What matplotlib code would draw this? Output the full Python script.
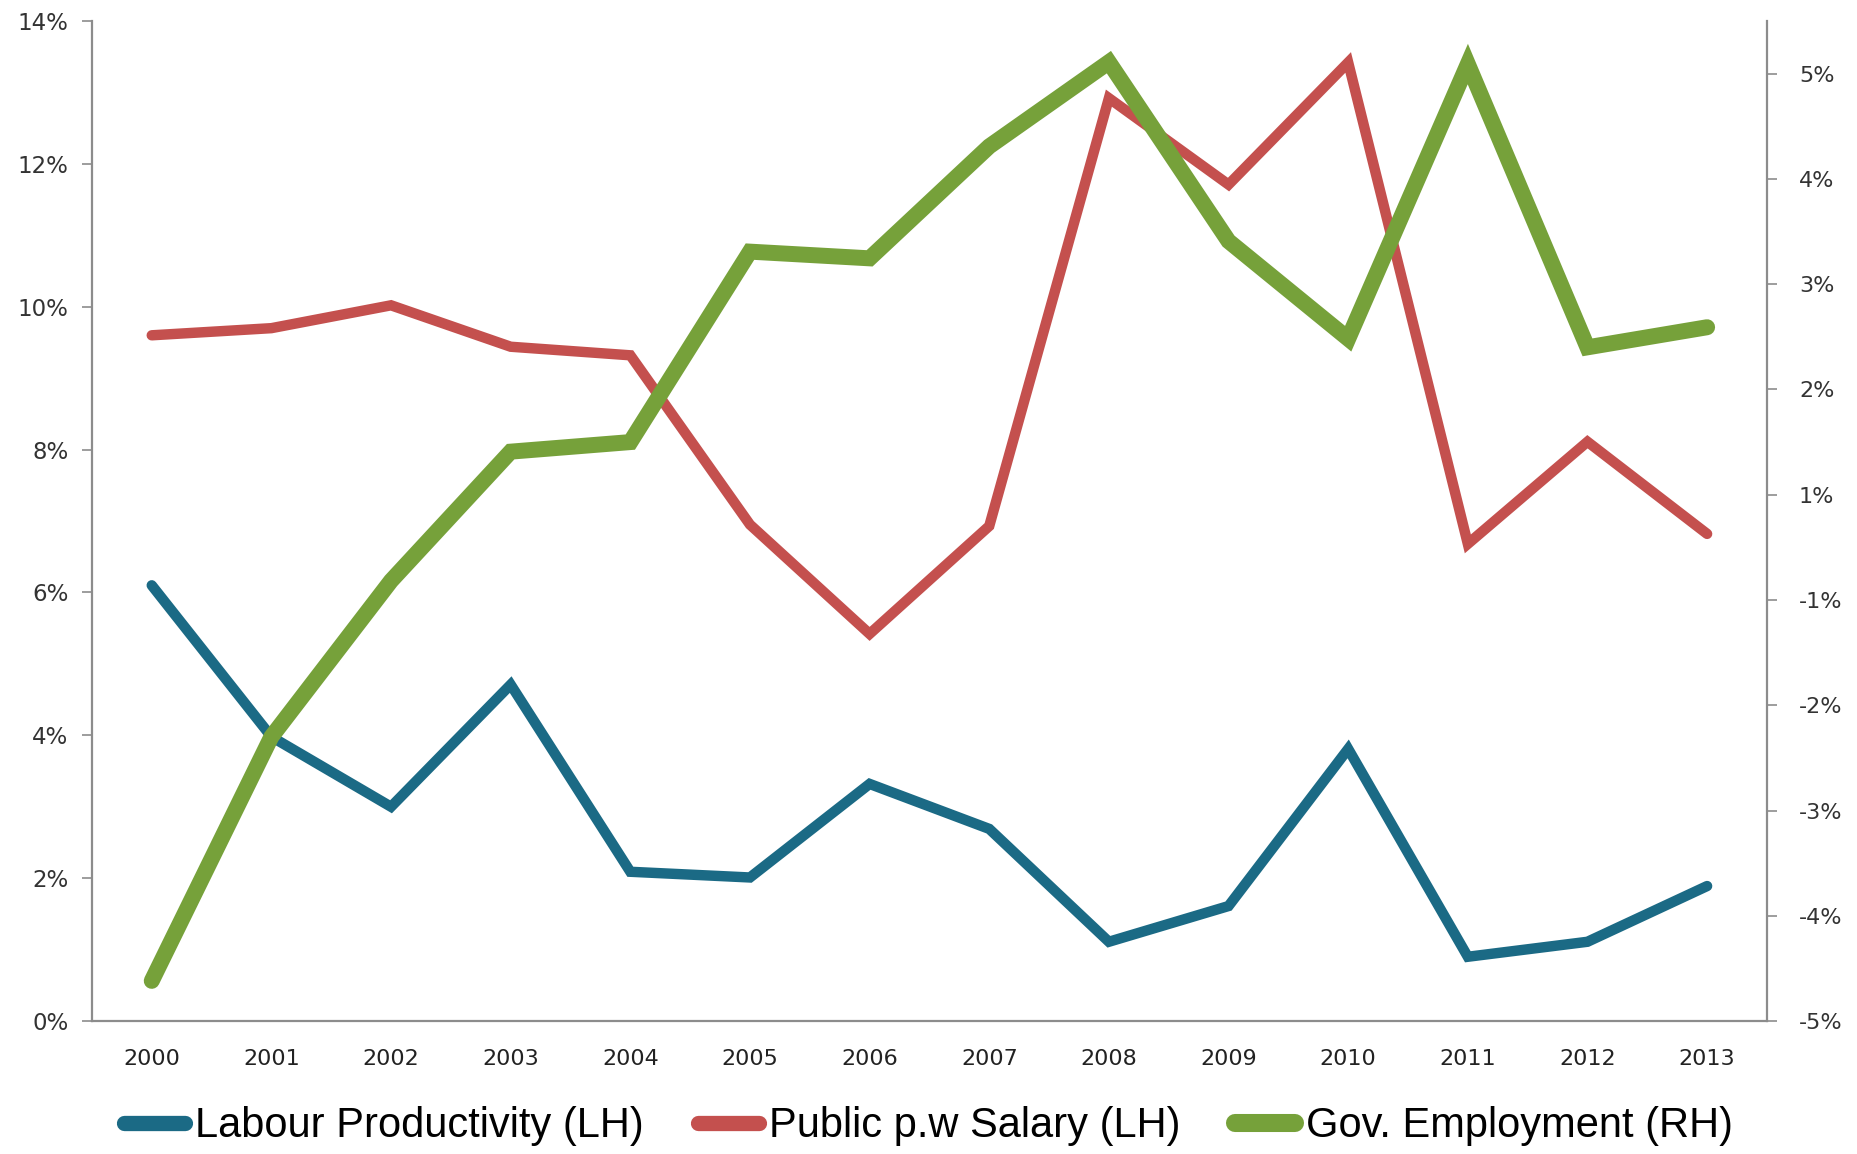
import numpy as np
import matplotlib
matplotlib.use("Agg")
import matplotlib.pyplot as plt
from matplotlib import font_manager
from matplotlib.ticker import FixedLocator, FuncFormatter

years = ["2000", "2001", "2002", "2003", "2004", "2005", "2006",
         "2007", "2008", "2009", "2010", "2011", "2012", "2013"]
labour_productivity = [6.10, 3.98, 3.00, 4.71, 2.09, 2.01, 3.32,
                       2.69, 1.11, 1.61, 3.81, 0.90, 1.11, 1.89]
public_salary = [9.60, 9.70, 10.02, 9.44, 9.32, 6.95, 5.42,
                 6.93, 12.92, 11.71, 13.42, 6.68, 8.11, 6.82]
gov_employment = [-4.58, -2.03, -0.40, 0.95, 1.05, 3.04, 2.97,
                  4.14, 5.02, 3.15, 2.13, 5.00, 2.04, 2.25]
left_ticks = [0, 2, 4, 6, 8, 10, 12, 14]
right_ticks = [-5.0, -3.9, -2.8, -1.7, -0.6, 0.5, 1.6, 2.7, 3.8, 4.9]
series_names = ["Labour Productivity (LH)", "Public p.w Salary (LH)", "Gov. Employment (RH)"]

names = {f.name for f in font_manager.fontManager.ttflist}
narrow = "Liberation Sans Narrow" if "Liberation Sans Narrow" in names else "Liberation Sans"

c_blue = "#1B6A85"
c_red = "#C4504E"
c_green = "#76A13A"
grey = "#8C8C8C"

fig = plt.figure(figsize=(18.57, 11.54), dpi=100)
ax = fig.add_axes([0.0495, 0.1152, 0.9020, 0.8666])
ax2 = ax.twinx()

x = np.arange(len(years))
l1, = ax.plot(x, labour_productivity, color=c_blue, lw=7.5,
              solid_capstyle="round", solid_joinstyle="miter", zorder=3)
l2, = ax.plot(x, public_salary, color=c_red, lw=7.5,
              solid_capstyle="round", solid_joinstyle="miter", zorder=3)
l3, = ax2.plot(x, gov_employment, color=c_green, lw=11.5,
               solid_capstyle="round", solid_joinstyle="miter", zorder=4)

ax.set_xlim(-0.5, len(years) - 0.5)
ax.set_ylim(0, 14)
ax2.set_ylim(-5, 5.45)

ax.set_xticks(x)
ax.set_xticklabels(years, fontfamily="DejaVu Sans", fontsize=16, color="#222222")
ax.tick_params(axis="x", length=0, pad=20)

ax.set_yticks(left_ticks)
ax.yaxis.set_major_formatter(FuncFormatter(lambda v, p: f"{int(round(v))}%"))
ax.tick_params(axis="y", length=7, width=1.2, color=grey, pad=10,
               labelsize=16.5, labelcolor="#333333")

ax2.yaxis.set_major_locator(FixedLocator(right_ticks))
ax2.yaxis.set_major_formatter(FuncFormatter(lambda v, p: f"{int(np.floor(v + 0.5 + 1e-9))}%"))
ax2.tick_params(axis="y", length=7, width=1.2, color=grey, pad=16,
                labelsize=16, labelcolor="#333333")

for a in (ax, ax2):
    a.spines["top"].set_visible(False)
    for s in ("left", "right", "bottom"):
        a.spines[s].set_color(grey)
        a.spines[s].set_linewidth(1.6)
ax.spines["right"].set_visible(False)
ax2.spines["left"].set_visible(False)
ax2.spines["bottom"].set_visible(False)

leg = fig.legend([l1, l2, l3], series_names, loc="center", bbox_to_anchor=(0.5, 0.024),
                 ncol=3, frameon=False, handlelength=1.45, handletextpad=0.25,
                 columnspacing=1.3, prop={"family": narrow, "size": 30})
for h, lw in zip(leg.legend_handles, [11, 11, 13]):
    h.set_linewidth(lw)
    h.set_solid_capstyle("round")

fig.savefig("out.png", dpi=100, facecolor="white")
